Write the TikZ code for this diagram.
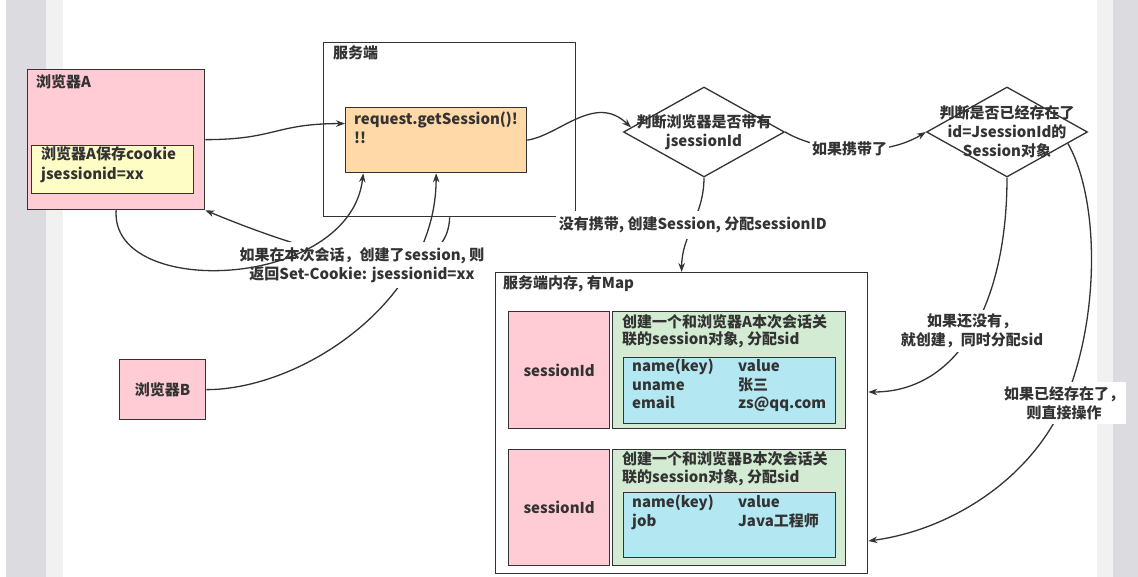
\documentclass[tikz,border=0pt]{standalone}
\usepackage{fontspec}
\setmainfont{Noto Sans CJK SC}
\usetikzlibrary{calc,arrows.meta,shapes.geometric}
\definecolor{ink}{HTML}{333333}
\definecolor{pinkfill}{HTML}{FFCCD5}
\definecolor{yellowfill}{HTML}{FFFDC6}
\definecolor{orangefill}{HTML}{FFD9A8}
\definecolor{greenfill}{HTML}{D2EBD2}
\definecolor{cyanfill}{HTML}{B3E8F2}
\definecolor{strip}{HTML}{DCDCE0}
\definecolor{stripl}{HTML}{F1F1F1}
\newcommand\kvrow[2]{\makebox[106pt][l]{#1}#2}
\tikzset{
  base/.style={draw=ink, line width=1.3pt},
  box/.style={base, rectangle, inner sep=0pt, anchor=north west},
  decision/.style={base, diamond, inner sep=0pt, minimum width=161pt, minimum height=90pt},
  txt/.style={text=ink, font=\fontsize{15}{19}\selectfont\bfseries, inner sep=0pt},
  lab/.style={txt, fill=white, align=center, inner xsep=2pt, inner ysep=4pt},
  conn/.style={draw=ink, line width=1.3pt, -{Stealth[length=9pt,width=6.5pt]}},
}

\begin{document}
\begin{tikzpicture}[x=1pt,y=-1pt]
  \useasboundingbox (0,0) rectangle (1138,577);
  \fill[white] (0,0) rectangle (1138,577);
  \fill[strip] (6,0) rectangle (46,577);
  \fill[stripl] (46,0) rectangle (63,577);
  \fill[stripl] (1097,0) rectangle (1113,577);
  \fill[strip] (1113,0) rectangle (1138,577);

  % browsers
  \node[box, fill=pinkfill, minimum width=177pt, minimum height=140pt] (browserA) at (27,69) {};
  \node[txt, anchor=west] at (36,82) {浏览器A};
  \node[box, fill=yellowfill, minimum width=162pt, minimum height=48pt] (cookie) at (31,145) {};
  \node[txt, anchor=west, align=left, font=\fontsize{15}{20}\selectfont\bfseries] at (41,165) {浏览器A保存cookie\\jsessionid=xx};
  \node[box, txt, fill=pinkfill, minimum width=86pt, minimum height=60pt] (browserB) at (119,359) {浏览器B};

  % server
  \node[box, minimum width=252pt, minimum height=174pt] (serv) at (323,42) {};
  \node[txt, anchor=west] at (333,53) {服务端};
  \node[box, fill=orangefill, minimum width=181pt, minimum height=65pt] (req) at (345,107) {};
  \node[txt, anchor=west, align=left] at (354,127.5) {request.getSession()!\\!!};

  \node[decision, label={[txt, align=center]center:{判断浏览器是否带有\\jsessionId}}] (judge1) at (704,132) {};
  \node[decision, label={[txt, align=center]center:{判断是否已经存在了\\id=JsessionId的\\Session对象}}] (judge2) at (1007,132) {};

  % memory map
  \node[box, minimum width=372pt, minimum height=301pt] (map) at (495,272) {};
  \node[txt, anchor=west] at (503,284) {服务端内存, 有Map};

  \node[box, txt, fill=pinkfill, minimum width=101pt, minimum height=117pt] (sid1) at (508,311) {sessionId};
  \node[box, fill=greenfill, minimum width=233pt, minimum height=117pt] (obj1) at (612,311) {};
  \node[txt, anchor=west, align=left, font=\fontsize{15}{17}\selectfont\bfseries] at (622,331.5) {创建一个和浏览器A本次会话关\\联的session对象, 分配sid};
  \node[box, fill=cyanfill, minimum width=212pt, minimum height=66pt] (kv1) at (623,357) {};
  \node[txt, anchor=west, align=left, font=\fontsize{15}{18.5}\selectfont\bfseries] at (632,385.5) {\kvrow{name(key)}{value}\\\kvrow{uname}{张三}\\\kvrow{email}{zs@qq.com}};

  \node[box, txt, fill=pinkfill, minimum width=101pt, minimum height=116pt] (sid2) at (508,449) {sessionId};
  \node[box, fill=greenfill, minimum width=233pt, minimum height=116pt] (obj2) at (612,449) {};
  \node[txt, anchor=west, align=left, font=\fontsize{15}{18}\selectfont\bfseries] at (622,469) {创建一个和浏览器B本次会话关\\联的session对象, 分配sid};
  \node[box, fill=cyanfill, minimum width=212pt, minimum height=65pt] (kv2) at (623,492) {};
  \node[txt, anchor=west, align=left] at (632,512) {\kvrow{name(key)}{value}\\\kvrow{job}{Java工程师}};

  % connectors
  \draw[conn] (browserA.east) .. controls +(70,0) and +(-70,0) .. ($(req.north west)!0.25!(req.south west)$);
  \draw[conn] (req.east) .. controls (560,135) and (595,93) .. ($(judge1.west)!0.1!(judge1.north)$);
  \draw[conn] (judge1.east) .. controls (815,150) and (880,160) .. (judge2.west) node[midway, lab] {如果携带了};
  \draw[conn] (judge1.south) .. controls +(0,38) and +(0,-37) .. (map.north) node[midway, lab, inner xsep=3pt, inner ysep=6pt] {没有携带, 创建Session, 分配sessionID};
  \draw[conn] (judge2.south) .. controls +(0,123) and +(92,0) .. ($(map.north east)+(0,120)$) node[midway, lab] {如果还没有，\\就创建，同时分配sid};
  \draw[conn] ($(judge2.east)!0.25!(judge2.south)$) .. controls (1100,200) and (1100,320) .. (1064,403) node[lab] {如果已经存在了，\\则直接操作} .. controls (1030,480) and (950,530) .. ($(map.north east)+(0,269)$);

  \draw[conn] (serv.south) .. controls (447,290) and (330,262) .. (browserA.south east);
  \draw[conn] (browserB.east) .. controls +(95,0) and +(0,128) .. (req.south);
  \node[lab, inner ysep=5pt] (setcookie) at (362,265) {如果在本次会话，创建了session, 则\\返回Set-Cookie: jsessionid=xx};
  \draw[conn] (browserA.south) .. controls (110,300) and (350,290) .. ($(req.south west)!0.1!(req.south east)$);
\end{tikzpicture}
\end{document}
